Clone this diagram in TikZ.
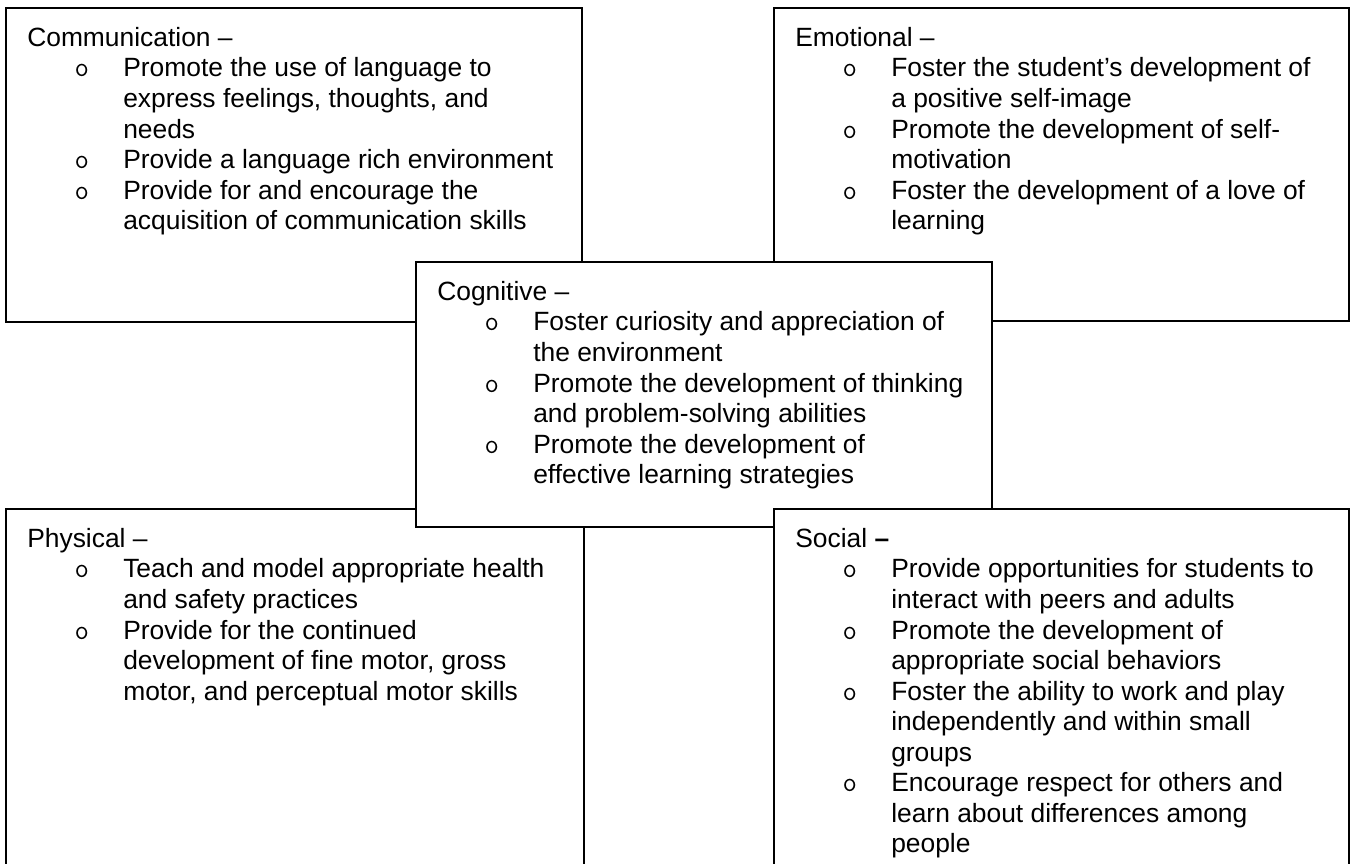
\documentclass[tikz,border=0pt]{standalone}
\usepackage{fontspec}
\setmainfont{Liberation Sans}

\newcommand{\head}[1]{#1\\}
\newcommand{\point}[1]{\hspace*{35.5pt}\makebox[36.5pt][l]{\fontsize{21pt}{21pt}\ttfamily o}#1\\}
\newcommand{\more}[1]{\hspace*{72pt}#1\\}

\tikzset{
  panel/.style={draw, fill=white, line width=0.9pt},
  body/.style={anchor=north west, inner sep=0pt, align=left,
    font=\fontsize{19.8pt}{22.9pt}\selectfont}
}

\begin{document}
\begin{tikzpicture}[x=0.75pt, y=-0.75pt]

      \clip (0,0) rectangle (1354,864);

      % top left
      \draw[panel] (6,8) rectangle (582,322);
      \node[body] (comm) at (27,27) {%
        \head{Communication –}
        \point{Promote the use of language to}
        \more{express feelings, thoughts, and}
        \more{needs}
        \point{Provide a language rich environment}
        \point{Provide for and encourage the}
        \more{acquisition of communication skills}};

      % top right
      \draw[panel] (774,8) rectangle (1349,321);
      \node[body] (emo) at (795,27) {%
        \head{Emotional –}
        \point{Foster the student’s development of}
        \more{a positive self-image}
        \point{Promote the development of self-}
        \more{motivation}
        \point{Foster the development of a love of}
        \more{learning}};

      % bottom left
      \draw[panel] (6,509) rectangle (584,880);
      \node[body] (phys) at (27,528) {%
        \head{Physical –}
        \point{Teach and model appropriate health}
        \more{and safety practices}
        \point{Provide for the continued}
        \more{development of fine motor, gross}
        \more{motor, and perceptual motor skills}};

      % middle
      \draw[panel] (416,262) rectangle (992,527);
      \node[body] (cog) at (437,281) {%
        \head{Cognitive –}
        \point{Foster curiosity and appreciation of}
        \more{the environment}
        \point{Promote the development of thinking}
        \more{and problem-solving abilities}
        \point{Promote the development of}
        \more{effective learning strategies}};

      % bottom right
      \draw[panel] (774,509) rectangle (1349,880);
      \node[body] (soc) at (795,528) {%
        \head{Social \textbf{–}}
        \point{Provide opportunities for students to}
        \more{interact with peers and adults}
        \point{Promote the development of}
        \more{appropriate social behaviors}
        \point{Foster the ability to work and play}
        \more{independently and within small}
        \more{groups}
        \point{Encourage respect for others and}
        \more{learn about differences among}
        \more{people}};

\end{tikzpicture}
\end{document}
